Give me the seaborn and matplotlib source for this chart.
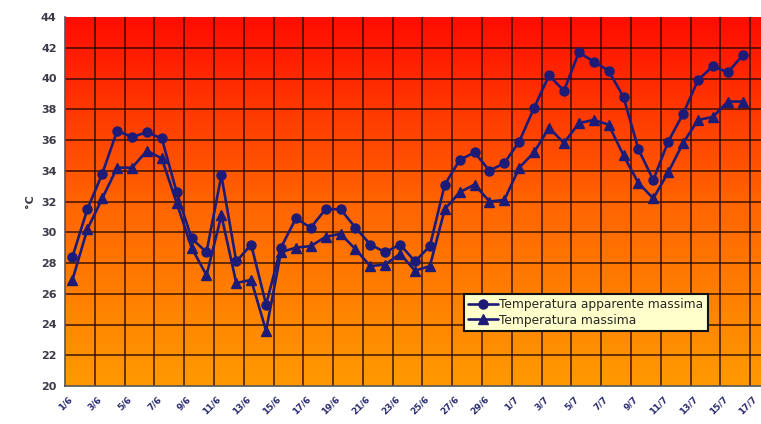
import numpy as np
import pandas as pd
import matplotlib
matplotlib.use("Agg")
import matplotlib.pyplot as plt
from matplotlib.colors import LinearSegmentedColormap
from matplotlib.ticker import FixedLocator
from matplotlib.transforms import ScaledTranslation
import seaborn as sns

# Giorni dal 1/6 al 17/7
giorni = [f"{d}/6" for d in range(1, 31)] + [f"{d}/7" for d in range(1, 18)]

temp_apparente = [
    28.4, 31.5, 33.8, 36.6, 36.2, 36.5, 36.1, 32.6, 29.6, 28.7,
    33.7, 28.1, 29.2, 25.3, 29.0, 30.9, 30.3, 31.5, 31.5, 30.3,
    29.2, 28.7, 29.2, 28.1, 29.1, 33.1, 34.7, 35.2, 34.0, 34.5,
    35.9, 38.1, 40.2, 39.2, 41.7, 41.1, 40.5, 38.8, 35.4, 33.4,
    35.9, 37.7, 39.9, 40.8, 40.4, 41.5, None,
]
temp_massima = [
    26.9, 30.2, 32.2, 34.2, 34.2, 35.3, 34.8, 31.9, 29.0, 27.2,
    31.1, 26.7, 26.9, 23.6, 28.7, 29.0, 29.1, 29.7, 29.9, 28.9,
    27.8, 27.9, 28.6, 27.5, 27.8, 31.5, 32.6, 33.1, 32.0, 32.1,
    34.2, 35.2, 36.8, 35.8, 37.1, 37.3, 37.0, 35.0, 33.2, 32.2,
    33.9, 35.8, 37.3, 37.5, 38.5, 38.5, None,
]
serie = ["Temperatura apparente massima", "Temperatura massima"]
y_ticks = list(range(20, 45, 2))

pos = np.arange(len(giorni))
df = pd.DataFrame({
    "pos": np.concatenate([pos, pos]),
    "temp": pd.to_numeric(pd.Series(temp_apparente + temp_massima), errors="coerce"),
    "serie": [serie[0]] * len(giorni) + [serie[1]] * len(giorni),
})

navy = "#1c1c78"

sns.set_style("white")
plt.rcParams["font.family"] = ["DejaVu Sans"]

fig = plt.figure(figsize=(7.61, 4.24), dpi=100)
fig.patch.set_facecolor("white")
# plot area runs slightly past the right edge of the canvas
ax = fig.add_axes([65 / 761, 38 / 424, 700 / 761, 369 / 424])

x0, x1 = -0.5, len(giorni) - 0.5
ax.set_xlim(x0, x1)
ax.set_ylim(20, 44)

# red-to-orange vertical gradient behind the data
grad = np.linspace(0, 1, 256).reshape(-1, 1)
cmap = LinearSegmentedColormap.from_list("caldo", ["#ff9a00", "#ff6400", "#ff0c00"])
ax.imshow(grad, extent=(x0, x1, 20, 44), origin="lower", aspect="auto",
          cmap=cmap, zorder=0, interpolation="bicubic")

# grid: every 2 °C and every two days (category boundaries)
for yv in y_ticks[1:-1]:
    ax.axhline(yv, color="#260a00", lw=1.1, alpha=0.9, zorder=1)
for xv in np.arange(x0 + 2, x1, 2):
    ax.axvline(xv, color="#260a00", lw=1.1, alpha=0.9, zorder=1)

sns.lineplot(data=df, x="pos", y="temp", hue="serie", style="serie",
             markers=["o", "^"], dashes=False, palette=[navy, navy],
             estimator=None, linewidth=1.9, markersize=6.5,
             markeredgecolor=navy, markeredgewidth=1.0, ax=ax, zorder=3)

# axes styling
for side in ("top", "right"):
    ax.spines[side].set_visible(False)
for side in ("left", "bottom"):
    ax.spines[side].set_color("#555555")
    ax.spines[side].set_linewidth(1.2)
    ax.spines[side].set_zorder(4)

ax.set_yticks(y_ticks)
ax.set_yticklabels([str(v) for v in y_ticks], fontsize=8, fontweight="bold",
                   color="#3a3a48")
ax.tick_params(axis="y", direction="out", length=4, width=1, color="#555555", pad=2)

ax.set_xticks(pos[::2])
ax.set_xticklabels(giorni[::2], rotation=45, ha="right", va="top",
                   rotation_mode="anchor", fontsize=6.4, fontweight="bold",
                   color="#2a2a70")
ax.tick_params(axis="x", which="major", length=0, pad=6)
shift = ScaledTranslation(-5 / 100, 0, fig.dpi_scale_trans)
for lbl in ax.get_xticklabels():
    lbl.set_transform(lbl.get_transform() + shift)
ax.xaxis.set_minor_locator(FixedLocator(np.arange(x0, x1, 2)))
ax.tick_params(axis="x", which="minor", direction="out", length=4, width=1,
               color="#555555")

ax.set_xlabel("")
ax.set_ylabel("°C", fontsize=8, fontweight="bold", color="#3a3a48")
ax.yaxis.set_label_coords(-0.043, 0.5)

handles, labels = ax.get_legend_handles_labels()
leg = ax.legend(handles, labels, loc="upper left",
                bbox_to_anchor=(464 / 761, 1 - 294 / 424),
                bbox_transform=fig.transFigure, borderaxespad=0,
                frameon=True, fancybox=False, fontsize=8.8,
                handlelength=2.4, handletextpad=0.15, labelspacing=0.2,
                borderpad=0.35)
leg.get_frame().set_facecolor("#ffffcc")
leg.get_frame().set_edgecolor("#111111")
leg.get_frame().set_linewidth(1.5)
leg.get_frame().set_alpha(1)
leg.set_zorder(5)

fig.savefig("out.png", dpi=100)
